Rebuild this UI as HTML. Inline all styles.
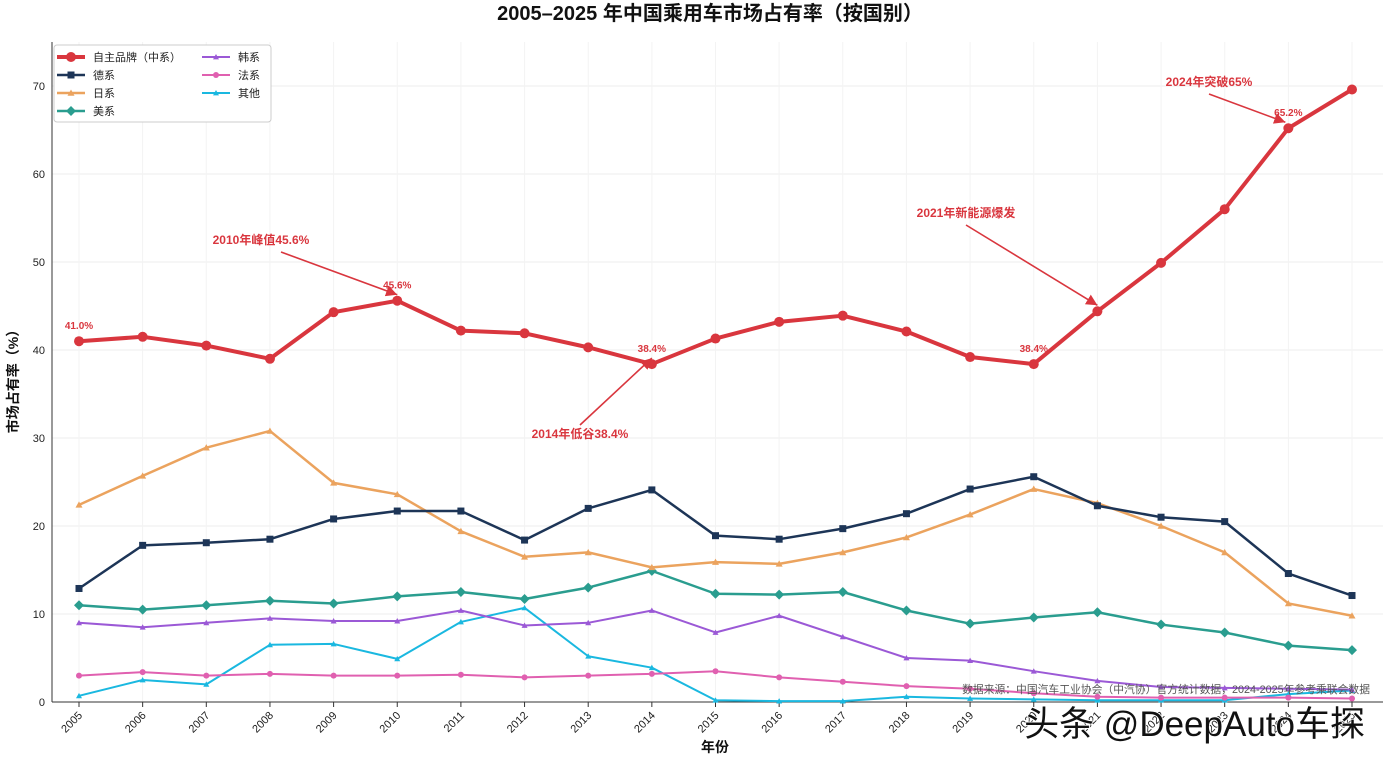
<!DOCTYPE html>
<html><head><meta charset="utf-8"><style>
body{margin:0;background:#fff;font-family:"Liberation Sans","Noto Sans CJK SC",sans-serif}
svg text{font-family:"Liberation Sans","Noto Sans CJK SC",sans-serif}
</style></head><body>
<svg id="c" width="1389" height="764" xmlns="http://www.w3.org/2000/svg">
<defs><marker id="ar" viewBox="0 0 10 10" refX="10" refY="5" markerWidth="7" markerHeight="7" orient="auto"><path d="M0,0L10,5L0,10z" fill="#d9363e"/></marker></defs>
<text x="710" y="20" text-anchor="middle" font-size="20" font-weight="bold" fill="#111">2005–2025 年中国乘用车市场占有率（按国别）</text>
</svg>
<script>
const years=["2005","2006","2007","2008","2009","2010","2011","2012","2013","2014","2015","2016","2017","2018","2019","2020","2021","2022","2023","2024","2025"];
const chinese=[41.0,41.5,40.5,39.0,44.3,45.6,42.2,41.9,40.3,38.4,41.3,43.2,43.9,42.1,39.2,38.4,44.4,49.9,56.0,65.2,69.6];
const german=[12.9,17.8,18.1,18.5,20.8,21.7,21.7,18.4,22.0,24.1,18.9,18.5,19.7,21.4,24.2,25.6,22.3,21.0,20.5,14.6,12.1];
const japanese=[22.4,25.7,28.9,30.8,24.9,23.6,19.4,16.5,17.0,15.3,15.9,15.7,17.0,18.7,21.3,24.2,22.6,20.0,17.0,11.2,9.8];
const american=[11.0,10.5,11.0,11.5,11.2,12.0,12.5,11.7,13.0,14.9,12.3,12.2,12.5,10.4,8.9,9.6,10.2,8.8,7.9,6.4,5.9];
const korean=[9.0,8.5,9.0,9.5,9.2,9.2,10.4,8.7,9.0,10.4,7.9,9.8,7.4,5.0,4.7,3.5,2.4,1.7,1.6,1.5,1.4];
const french=[3.0,3.4,3.0,3.2,3.0,3.0,3.1,2.8,3.0,3.2,3.5,2.8,2.3,1.8,1.5,1.0,0.6,0.5,0.5,0.5,0.4];
const other=[0.7,2.5,2.0,6.5,6.6,4.9,9.1,10.7,5.2,3.9,0.2,0.1,0.1,0.6,0.4,0.3,0.2,0.2,0.2,0.9,1.3];
const yTicks=[0,10,20,30,40,50,60,70];
const svg=document.getElementById('c'),NS='http://www.w3.org/2000/svg';
const X=i=>79+i*63.65, Y=v=>702-v*8.8;
function mk(t,a,p){const e=document.createElementNS(NS,t);for(const k in a)e.setAttribute(k,a[k]);(p||svg).appendChild(e);return e;}
yTicks.forEach(t=>{mk('line',{x1:52,x2:1383,y1:Y(t),y2:Y(t),stroke:'#eee','stroke-width':1});
const tx=mk('text',{x:45,y:Y(t)+4,'text-anchor':'end','font-size':11,fill:'#222'});tx.textContent=t;
});
years.forEach((y,i)=>{mk('line',{x1:X(i),x2:X(i),y1:42,y2:702,stroke:'#f3f3f3','stroke-width':1});
mk('line',{x1:X(i),x2:X(i),y1:702,y2:707,stroke:'#333'});
const tx=mk('text',{x:X(i)+4,y:716,'text-anchor':'end','font-size':11,fill:'#222',transform:`rotate(-45 ${X(i)+4} 716)`});tx.textContent=y;
});
mk('line',{x1:52,x2:52,y1:42,y2:702,stroke:'#333'});mk('line',{x1:52,x2:1383,y1:702,y2:702,stroke:'#333'});
let t=mk('text',{x:715,y:752,'text-anchor':'middle','font-size':14,'font-weight':'bold',fill:'#111'});t.textContent='年份';

t=mk('text',{x:18,y:378,'text-anchor':'middle','font-size':14,'font-weight':'bold',fill:'#111',transform:'rotate(-90 18 378)'});t.textContent='市场占有率（%）';

const series=[
 {n:'其他',d:other,c:'#1ab8e0',w:2,m:'tri',s:3},
 {n:'法系',d:french,c:'#e060b0',w:2,m:'dot',s:3},
 {n:'韩系',d:korean,c:'#9b59d6',w:2,m:'tri',s:3},
 {n:'美系',d:american,c:'#2a9d8f',w:2.5,m:'dia',s:5},
 {n:'日系',d:japanese,c:'#eba35e',w:2.5,m:'tri',s:3.5},
 {n:'德系',d:german,c:'#1d3557',w:2.5,m:'sq',s:3.5},
 {n:'自主品牌（中系）',d:chinese,c:'#d9363e',w:4,m:'dot',s:5}];
function marker(m,x,y,s,c,g){
 if(m==='dot')return mk('circle',{cx:x,cy:y,r:s,fill:c},g);
 if(m==='sq')return mk('rect',{x:x-s,y:y-s,width:2*s,height:2*s,fill:c},g);
 if(m==='dia')return mk('path',{d:`M${x},${y-s}L${x+s},${y}L${x},${y+s}L${x-s},${y}z`,fill:c},g);
 return mk('path',{d:`M${x},${y-s}L${x+s},${y+s*0.8}L${x-s},${y+s*0.8}z`,fill:c},g);
}
series.forEach(S=>{const g=mk('g',{});
 mk('polyline',{points:S.d.map((v,i)=>X(i)+','+Y(v)).join(' '),fill:'none',stroke:S.c,'stroke-width':S.w,'stroke-linejoin':'round'},g);
 S.d.forEach((v,i)=>{const p=marker(S.m,X(i),Y(v),S.s,S.c,g);});});
[[0,'41.0%'],[5,'45.6%'],[9,'38.4%'],[15,'38.4%'],[19,'65.2%']].forEach(([i,l])=>{const e=mk('text',{x:X(i),y:Y(chinese[i])-12,'text-anchor':'middle','font-size':10,'font-weight':'bold',fill:'#d9363e'});e.textContent=l;
});
[['2010年峰值45.6%',261,244,5],['2014年低谷38.4%',580,438,9],['2021年新能源爆发',966,217,16],['2024年突破65%',1209,86,19]].forEach(([l,x,y,i])=>{
 const ty=i===9?y-13:y+8;
 mk('line',{x1:i===5?x+20:x,y1:ty,x2:X(i)-(i===19?3:0),y2:Y(chinese[i])-6,stroke:'#d9363e','stroke-width':1.6,'marker-end':'url(#ar)'});
 const e=mk('text',{x:x,y:y,'text-anchor':'middle','font-size':12,'font-weight':'bold',fill:'#d9363e'});e.textContent=l;
 });
const lg=mk('g',{});
mk('rect',{x:54,y:45,width:217,height:77,rx:3,fill:'#fff',stroke:'#ccc'},lg);
const order=[6,5,4,3,2,1,0];
order.forEach((si,k)=>{const S=series[si];const col=k<4?0:1,row=k<4?k:k-4;const x=57+col*145,y=57+row*18;
 const e=mk('g',{},lg);
 mk('line',{x1:x,x2:x+28,y1:y,y2:y,stroke:S.c,'stroke-width':S.w},e);marker(S.m,x+14,y,S.s,S.c,e);
 const tt=mk('text',{x:x+36,y:y+4,'font-size':11,fill:'#222'},e);tt.textContent=S.n;});
t=mk('text',{x:1370,y:693,'text-anchor':'end','font-size':10.8,fill:'#555'});t.textContent='数据来源：中国汽车工业协会（中汽协）官方统计数据，2024-2025年参考乘联会数据';

t=mk('text',{x:1365,y:736,'text-anchor':'end','font-size':35,fill:'#111',stroke:'#fff','stroke-width':1.5,'paint-order':'stroke'});t.textContent='头条 @DeepAuto车探';

</script>
</body></html>
